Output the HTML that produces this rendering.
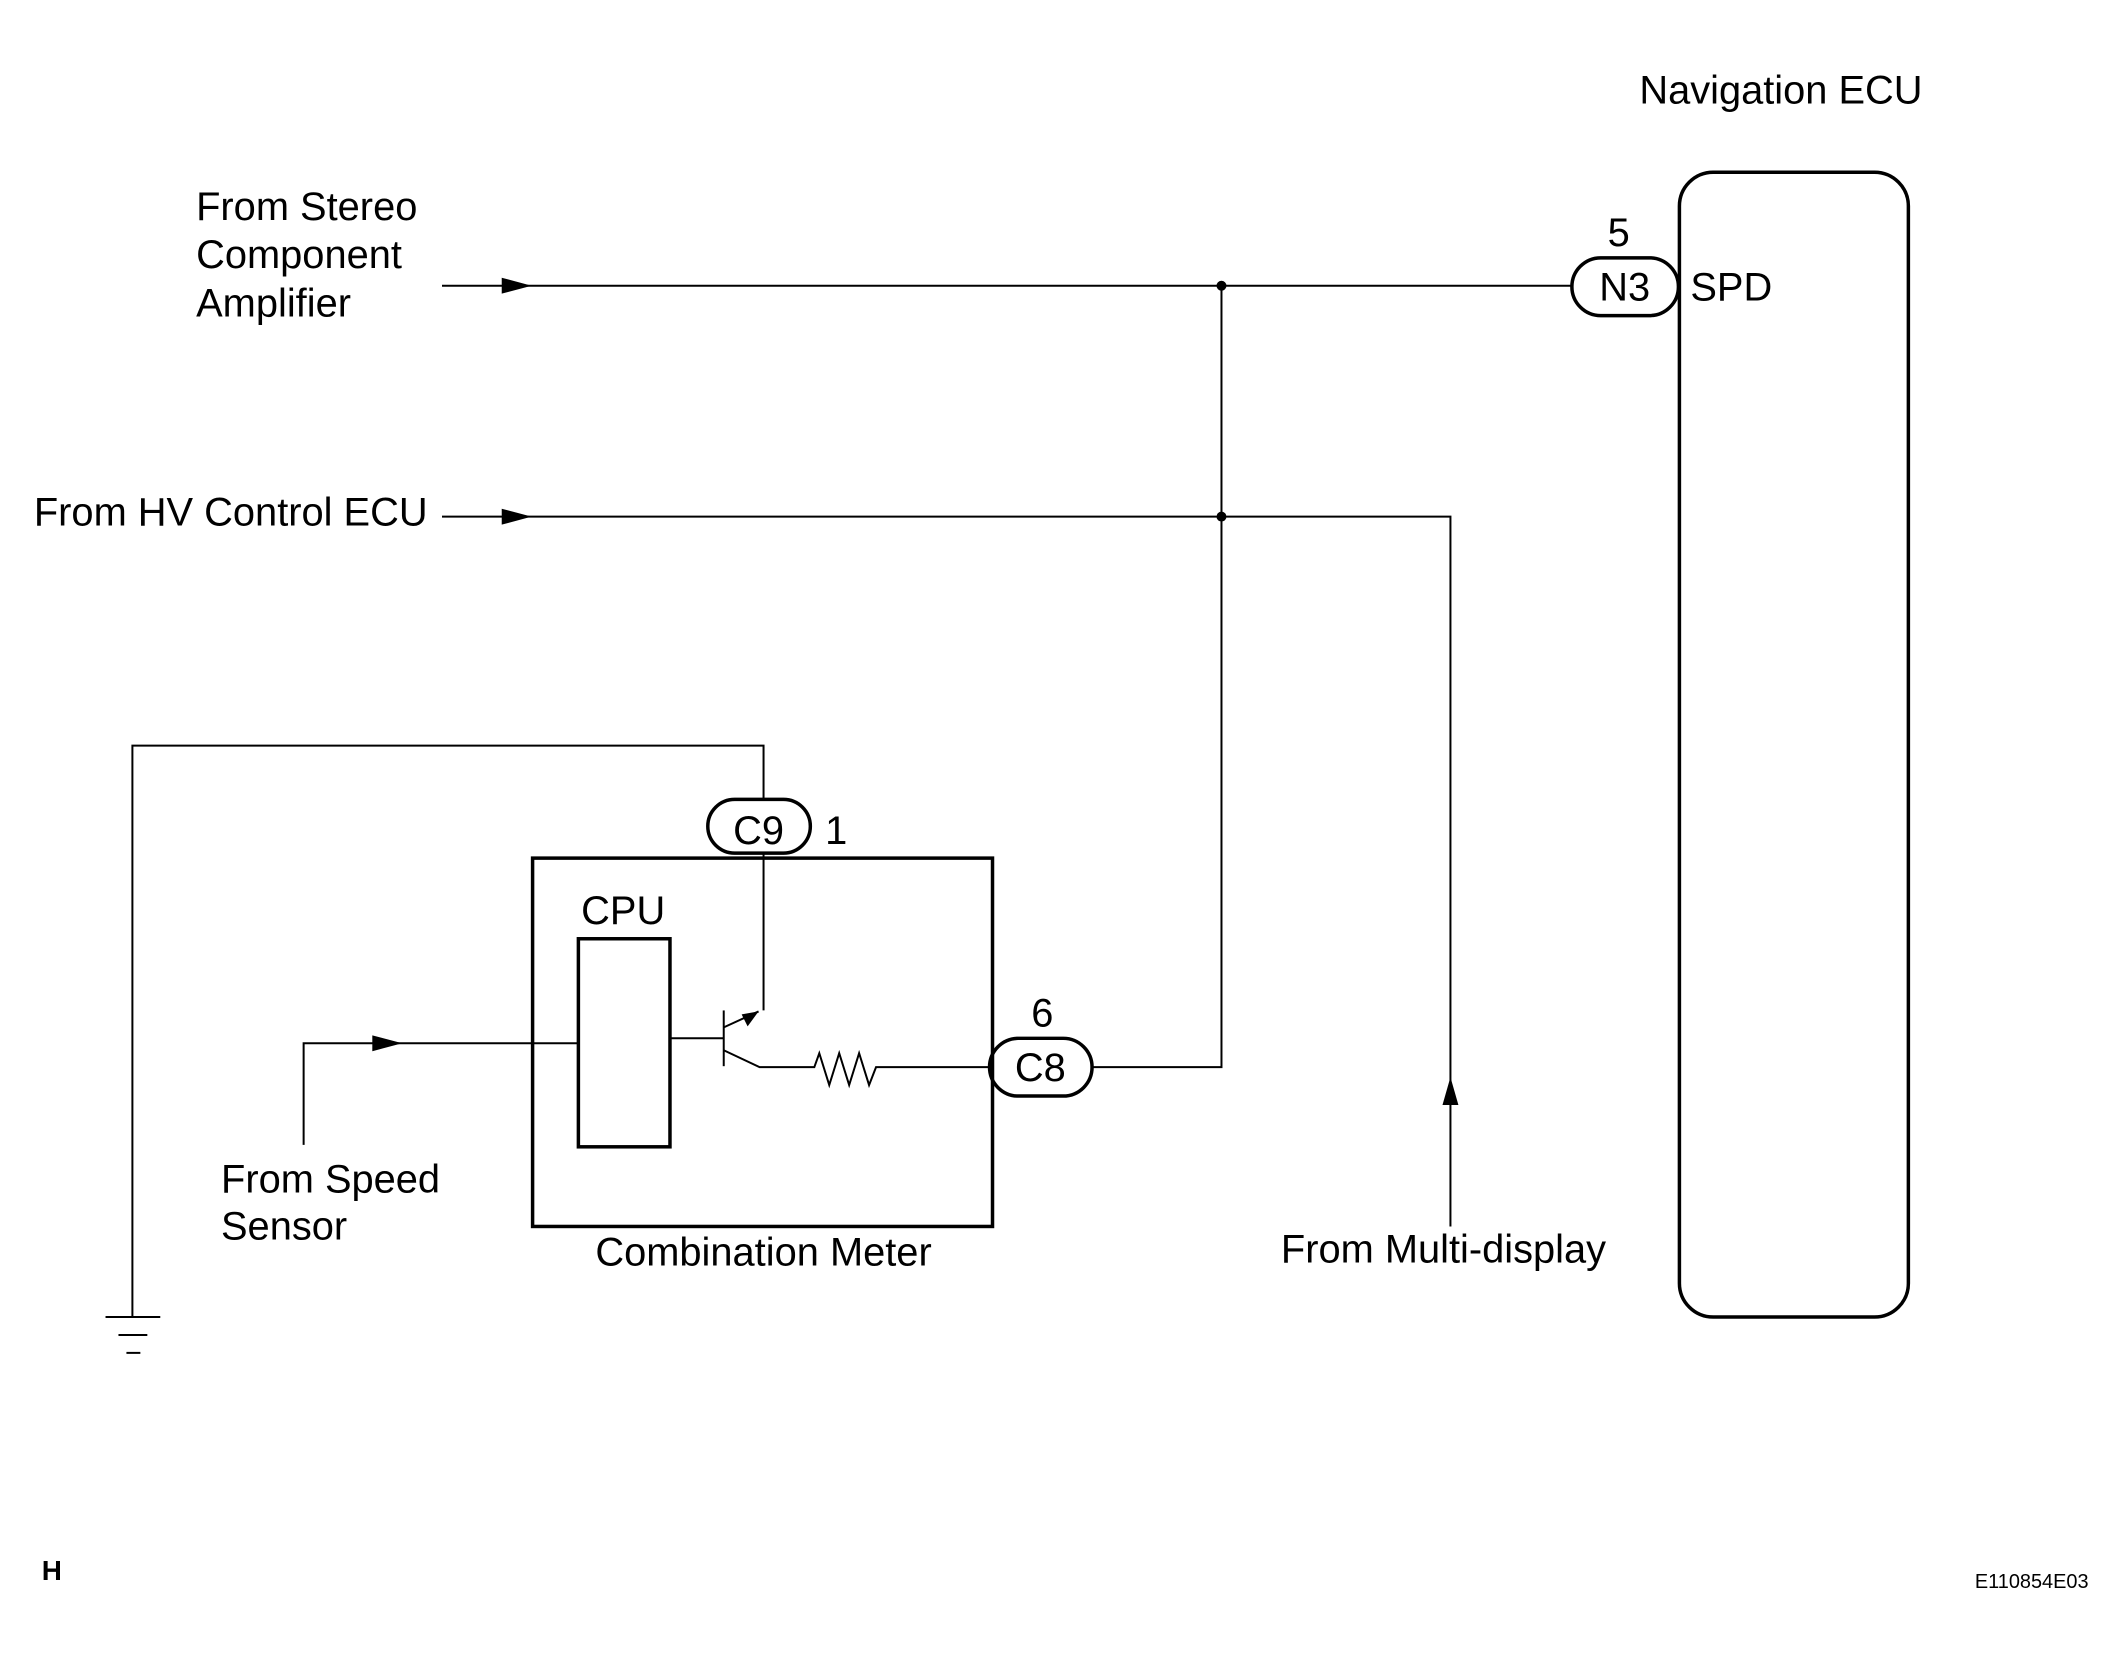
<!DOCTYPE html>
<html><head><meta charset="utf-8"><style>
html,body{margin:0;padding:0;background:#fff;}
svg{display:block;}
text{font-family:"Liberation Sans",Arial,sans-serif;fill:#000;}
</style></head><body>
<svg width="2124" height="1664" viewBox="0 0 2124 1664" xmlns="http://www.w3.org/2000/svg">
<g transform="scale(0.9955)">
<g stroke="#000" fill="none" stroke-width="2">
<rect x="1687" y="173" width="230" height="1150" rx="34" stroke-width="3.5"/>
<line x1="444" y1="287" x2="1579" y2="287"/>
<polyline points="444,519 1457,519 1457,1232"/>
<polyline points="1227,287 1227,1072 1097,1072"/>
<polyline points="133,1323 133,749 767,749 767,802"/>
<line x1="767" y1="857" x2="767" y2="1015"/>
<line x1="106" y1="1323" x2="161" y2="1323"/>
<line x1="119" y1="1341" x2="148" y2="1341"/>
<line x1="127" y1="1359" x2="141" y2="1359"/>
<rect x="535" y="862" width="462" height="370" stroke-width="3.5"/>
<rect x="581" y="943" width="92" height="209" stroke-width="3.5"/>
<polyline points="305,1150 305,1048 581,1048"/>
<line x1="673" y1="1043" x2="727" y2="1043"/>
<line x1="727" y1="1015" x2="727" y2="1071"/>
<line x1="727" y1="1032" x2="762" y2="1016"/>
<polyline points="727,1055 763,1072 818,1072 823,1058 833,1090 843,1058 853,1090 863,1058 873,1090 880,1072 993,1072"/>
<rect x="1579" y="259" width="107" height="58" rx="29" stroke-width="3.5"/>
<rect x="711" y="803" width="103" height="54" rx="27" stroke-width="3.5"/>
<rect x="994" y="1043" width="103" height="58" rx="29" stroke-width="3.5"/>
</g>
<g fill="#000">
<polygon points="504,279 534,287 504,295"/>
<polygon points="504,511 534,519 504,527"/>
<polygon points="374,1040 404,1048 374,1056"/>
<polygon points="1449,1110 1457,1082 1465,1110"/>
<polygon points="762,1016 745,1019 751,1031"/>
<circle cx="1227" cy="287" r="5"/>
<circle cx="1227" cy="519" r="5"/>
</g>
<g font-size="40">
<text x="1789" y="104" text-anchor="middle">Navigation ECU</text>
<text x="197" y="221">From Stereo</text>
<text x="197" y="269">Component</text>
<text x="197" y="318">Amplifier</text>
<text x="34" y="528">From HV Control ECU</text>
<text x="1626" y="247" text-anchor="middle">5</text>
<text x="1632" y="302" text-anchor="middle">N3</text>
<text x="1698" y="302">SPD</text>
<text x="762" y="848" text-anchor="middle">C9</text>
<text x="840" y="848" text-anchor="middle">1</text>
<text x="626" y="928" text-anchor="middle">CPU</text>
<text x="1047" y="1031" text-anchor="middle">6</text>
<text x="1045" y="1086" text-anchor="middle">C8</text>
<text x="222" y="1198">From Speed</text>
<text x="222" y="1245">Sensor</text>
<text x="767" y="1271" text-anchor="middle">Combination Meter</text>
<text x="1450" y="1268" text-anchor="middle">From Multi-display</text>
</g>
<text x="42" y="1587" font-size="28" font-weight="bold">H</text>
<text x="2098" y="1595" font-size="20" text-anchor="end">E110854E03</text>
</g>
</svg>
</body></html>
